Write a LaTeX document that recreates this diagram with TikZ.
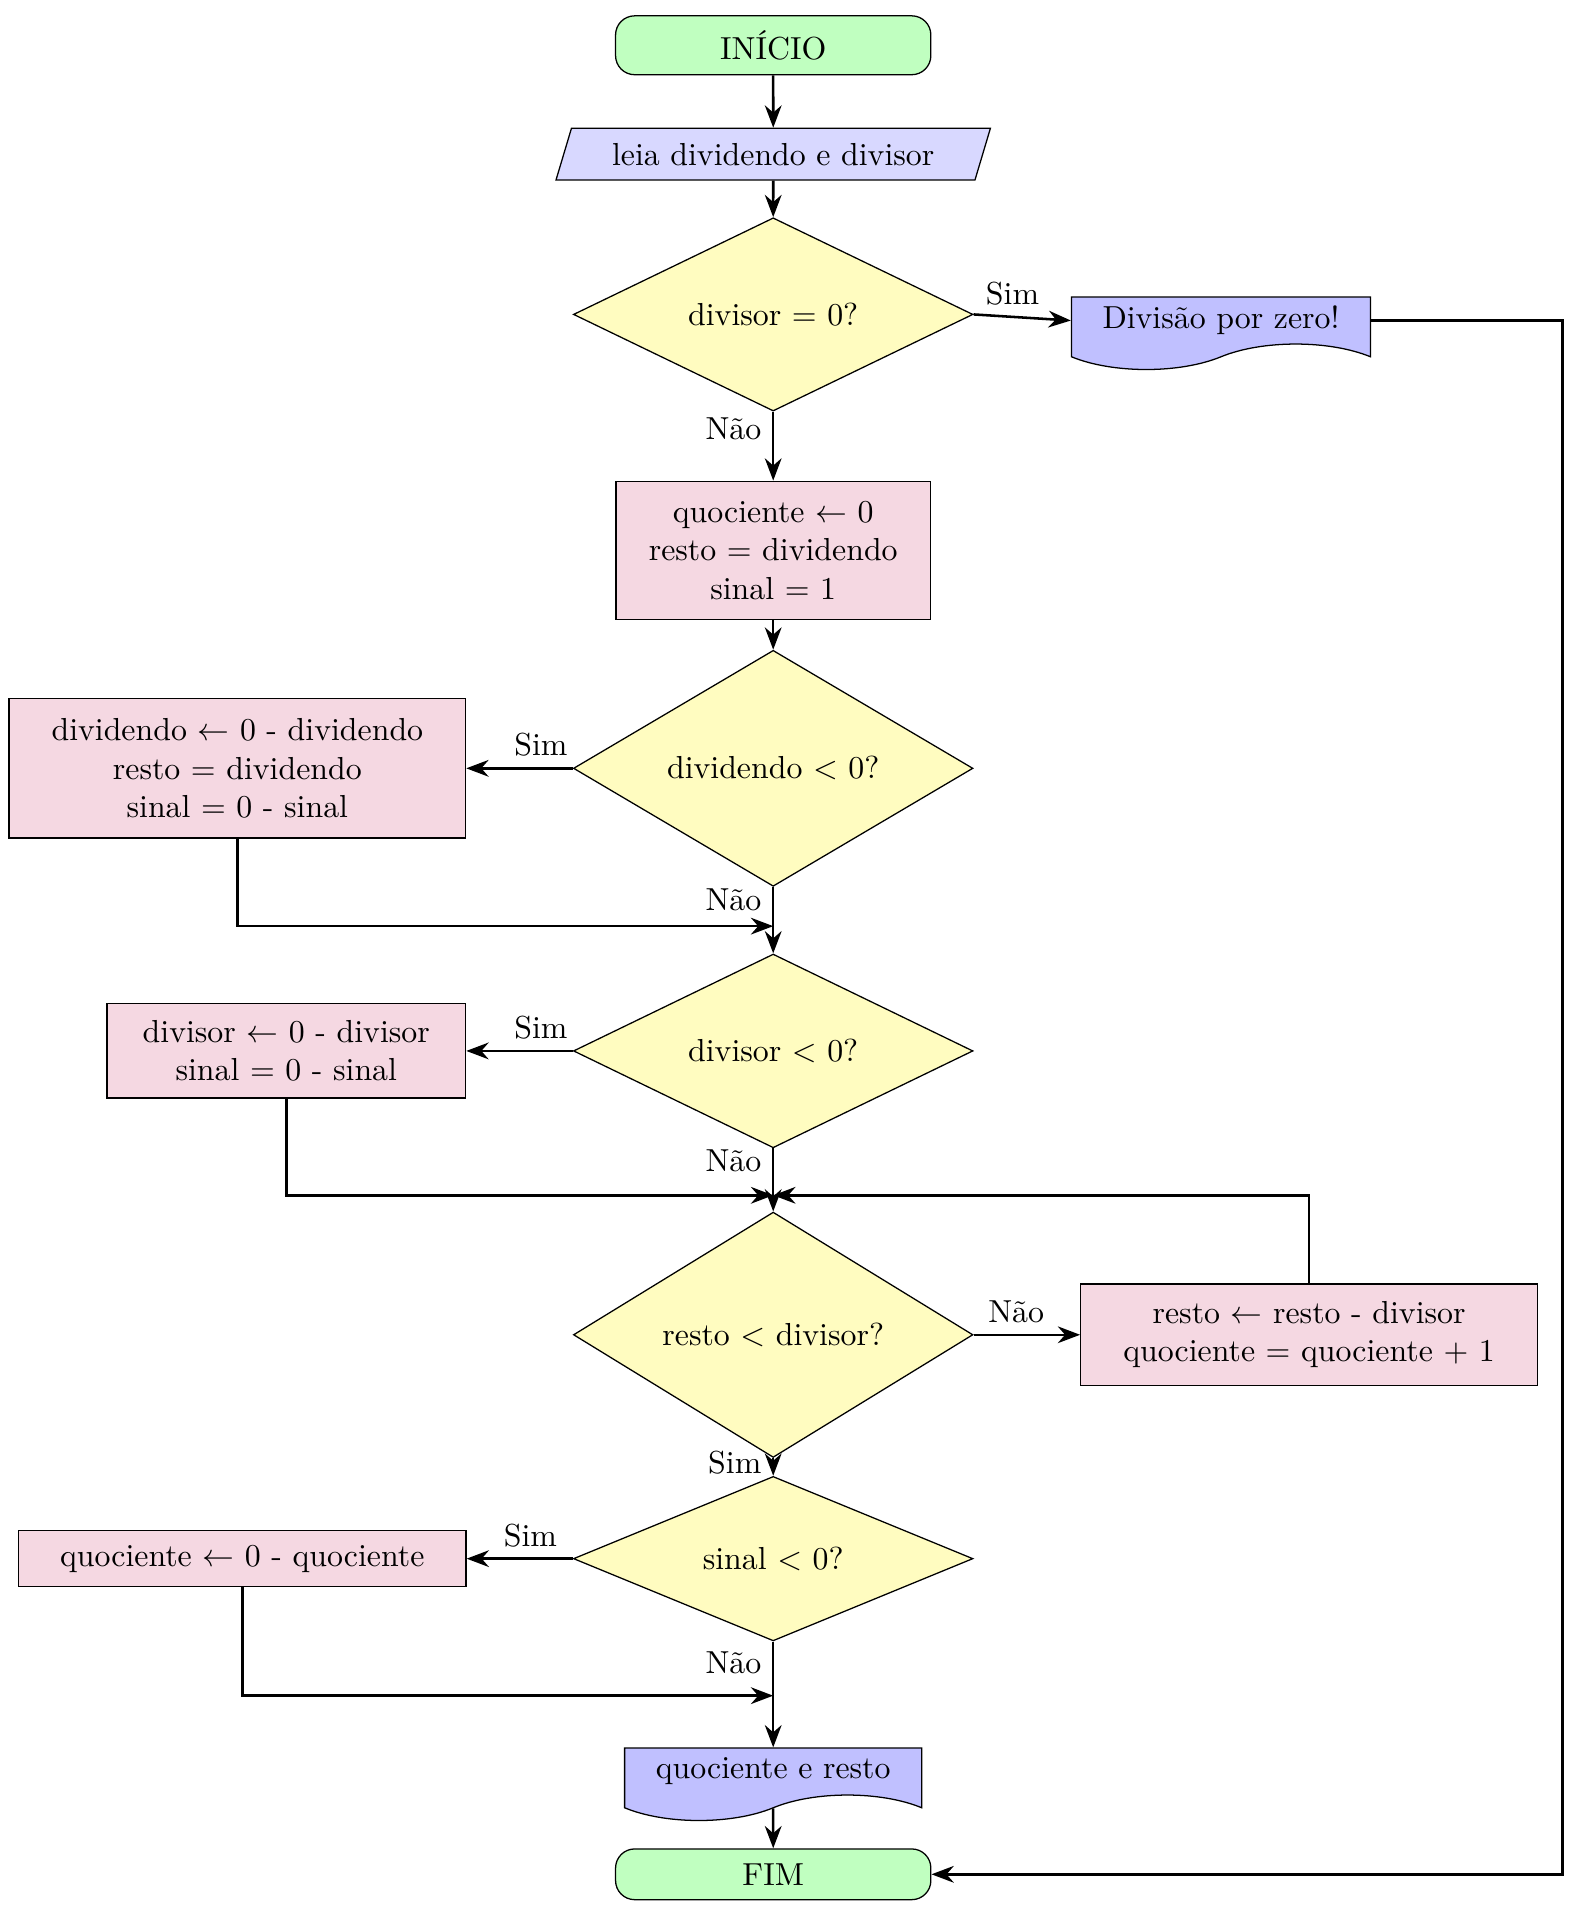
\documentclass[tikz,border=0pt]{standalone}
\usetikzlibrary{shapes.geometric,shapes.symbols,arrows.meta}

\definecolor{termcolor}{HTML}{C0FFC0}
\definecolor{inputcolor}{HTML}{D8D8FF}
\definecolor{decisioncolor}{HTML}{FFFCC0}
\definecolor{processcolor}{HTML}{F5D8E2}
\definecolor{outputcolor}{HTML}{C0C0FF}

\tikzset{
  terminal/.style={rectangle, rounded corners=6pt, draw, fill=termcolor, minimum width=3.48cm, inner sep=2pt},
  inputbox/.style={trapezium, trapezium left angle=70, trapezium right angle=110, trapezium stretches=true, draw, fill=inputcolor, minimum width=4.8cm, minimum height=0.57cm, inner sep=2pt},
  decision/.style={diamond, draw, fill=decisioncolor, minimum width=4.41cm, inner sep=0pt},
  process/.style={rectangle, draw, fill=processcolor, align=center, inner sep=2pt},
  outputbox/.style={tape, tape bend top=none, tape bend height=8pt, draw, fill=outputcolor, inner sep=2pt},
  flow/.style={thick, -{Stealth[length=7pt]}}
}

\begin{document}
\begin{tikzpicture}[x=0.0135cm, y=-0.0135cm]
    \useasboundingbox (0,0) rectangle (1292,1571);

    % Main column
    \node[terminal, minimum height=0.65cm] (inicio) at (632,37) {INÍCIO};
    \node[inputbox] (leia) at (632,126) {leia dividendo e divisor};
    \node[decision, minimum height=1.76cm] (zero) at (632,257) {divisor = 0?};
    \node[outputbox, minimum width=3.3cm, minimum height=0.8cm] (erro) at (998,262) {Divisão por zero!};
    \node[process, minimum width=3.47cm, minimum height=1.53cm] (init) at (632,450) {quociente $\leftarrow$ 0\\resto = dividendo\\sinal = 1};

    % Sign of dividend
    \node[decision, minimum height=2.05cm] (dneg) at (632,628) {dividendo $<$ 0?};
    \node[process, minimum width=5.04cm, minimum height=1.54cm] (inva) at (194,628) {dividendo $\leftarrow$ 0 - dividendo\\resto = dividendo\\sinal = 0 - sinal};
    \coordinate (join1) at (632,757);

    % Sign of divisor
    \node[decision, minimum height=1.78cm] (vneg) at (632,859) {divisor $<$ 0?};
    \node[process, minimum width=3.96cm, minimum height=1.04cm] (invb) at (234,859) {divisor $\leftarrow$ 0 - divisor\\sinal = 0 - sinal};
    \coordinate (join2) at (632,977);

    % Loop
    \node[decision, minimum height=2.12cm] (laco) at (632,1091) {resto $<$ divisor?};
    \node[process, minimum width=5.04cm, minimum height=1.12cm] (passo) at (1070,1091) {resto $\leftarrow$ resto - divisor\\quociente = quociente + 1};

    % Final sign
    \node[decision, minimum height=1.59cm] (sneg) at (632,1274) {sinal $<$ 0?};
    \node[process, minimum width=4.94cm, minimum height=0.62cm] (invc) at (198,1274) {quociente $\leftarrow$ 0 - quociente};
    \coordinate (join3) at (632,1386);

    \node[outputbox, minimum width=3.28cm, minimum height=0.8cm] (saida) at (632,1448) {quociente e resto};
    \node[terminal, minimum height=0.56cm] (fim) at (632,1532) {FIM};
    \coordinate (margem) at (1277,262);

    % Connectors
    \draw[flow] (inicio) -- (leia);
    \draw[flow] (leia) -- (zero);
    \draw[flow] (zero.east) -- node[above, pos=0.4] {Sim} (erro.west);
    \draw[flow] (erro.east) -- (margem) |- (fim.east);
    \draw[flow] (zero.south) -- node[left, pos=0.25] {Não} (init.north);
    \draw[flow] (init) -- (dneg);

    \draw[flow] (dneg.west) -- node[above, pos=0.3] {Sim} (inva.east);
    \draw[flow] (inva.south) |- (join1);
    \draw[flow] (dneg.south) -- node[left, pos=0.2] {Não} (vneg.north);

    \draw[flow] (vneg.west) -- node[above, pos=0.3] {Sim} (invb.east);
    \draw[flow] (invb.south) |- (join2);
    \draw[flow] (vneg.south) -- node[left, pos=0.2] {Não} (laco.north);

    \draw[flow] (laco.east) -- node[above, pos=0.4] {Não} (passo.west);
    \draw[flow] (passo.north) |- (join2);
    \draw[flow] (laco.south) -- node[left, pos=0.25] {Sim} (sneg.north);

    \draw[flow] (sneg.west) -- node[above, pos=0.4] {Sim} (invc.east);
    \draw[flow] (invc.south) |- (join3);
    \draw[flow] (sneg.south) -- node[left, pos=0.2] {Não} (saida.north);
    \draw[flow] (saida) -- (fim);
\end{tikzpicture}
\end{document}
